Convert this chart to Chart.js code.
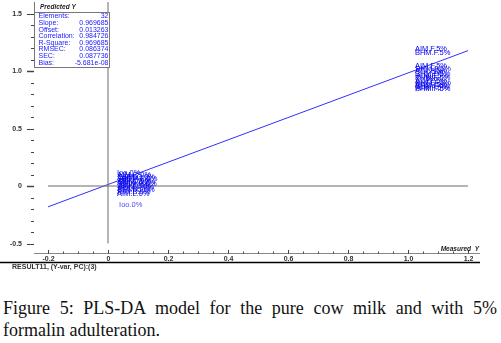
<!DOCTYPE html>
<html lang="en">
<head>
  <meta charset="UTF-8">
  <title>PLS-DA Predicted vs Measured</title>
  <script src="https://cdn.jsdelivr.net/npm/chart.js"></script>
  <style>
    body { margin: 0; background: #fff; width: 501px; height: 343px; overflow: hidden; position: relative; }
    #plot { position: absolute; left: 0; top: 0; }
    .caption { position: absolute; left: 3px; top: 297px; width: 494px; font-family: "Liberation Serif", "Times New Roman", serif; font-size: 18px; line-height: 22px; color: #111; }
    .caption .l1 { text-align: justify; text-align-last: justify; }
  </style>
</head>
<body>
  <canvas id="plot" width="501" height="272"></canvas>
  <div class="caption">
    <div class="l1">Figure 5: PLS-DA model for the pure cow milk and with 5%</div>
    <div>formalin adulteration.</div>
  </div>

  <script>
    // samples: pure milk (0%) and 5% formalin
    const pureX = [0.030, 0.031, 0.033, 0.030, 0.045, 0.031, 0.034, 0.030, 0.040, 0.031, 0.034, 0.030, 0.032, 0.030, 0.030, 0.037];
    const pureY = [0.113, 0.092, 0.080, 0.068, 0.058, 0.046, 0.036, 0.024, 0.014, 0.002, -0.010, -0.022, -0.034, -0.048, -0.066, -0.165];
    const pureLbl = ['Ioo.0%', 'AIM.C.0%', 'BHM.C.0%', 'AIM.B.0%', 'BHM.L.0%', 'AIM.C.0%', 'BHM.C.0%', 'AIM.L.0%', 'BHM.B.0%', 'AIM.C.0%', 'BHM.L.0%', 'AIM.B.0%', 'BHM.C.0%', 'AIM.B.0%', 'AIM.L.0%', 'Ioo.0%'];

    const formX = [1.023, 1.023, 1.023, 1.025, 1.023, 1.080, 1.023, 1.027, 1.023, 1.060, 1.023, 1.025, 1.023, 1.023, 1.027, 1.023];
    const formY = [1.191, 1.160, 1.048, 1.022, 1.000, 0.992, 0.977, 0.957, 0.937, 0.930, 0.915, 0.898, 0.882, 0.868, 0.855, 0.842];
    const formLbl = ['AIM.F.5%', 'BHM.F.5%', 'AIM.F.5%', 'BHM.F.5%', 'AIM.F.5%', '5%', 'BHM.F.5%', 'AIM.F.5%', 'BHM.F.5%', '5%', 'AIM.F.5%', 'BHM.F.5%', 'AIM.F.5%', 'BHM.F.5%', 'AIM.F.5%', 'BHM.F.5%'];

    // regression line end points (slope 0.9697, offset 0.0133)
    const fitX = [-0.2, 1.2];
    const fitY = [-0.181, 1.177];

    // axis ticks
    const xTicks = [-0.2, 0, 0.2, 0.4, 0.6, 0.8, 1.0, 1.2];
    const xTickLbl = ['-0.2', '0', '0.2', '0.4', '0.6', '0.8', '1.0', '1.2'];
    const yTicks = [-0.5, 0, 0.5, 1.0, 1.5];
    const yTickLbl = ['-0.5', '0', '0.5', '1.0', '1.5'];

    // statistics box
    const statNames = ['Elements:', 'Slope:', 'Offset:', 'Correlation:', 'R-Square:', 'RMSEC:', 'SEC:', 'Bias:'];
    const statVals = ['32', '0.969685', '0.013263', '0.984726', '0.969685', '0.086374', '0.087736', '-5.681e-08'];

    const pts = (xs, ys) => xs.map((x, i) => ({ x: x, y: ys[i] }));
    const FONT = '"Liberation Sans", Arial, sans-serif';

    const drawExtras = {
      id: 'drawExtras',
      afterDatasetsDraw(chart) {
        const ctx = chart.ctx, xs = chart.scales.x, ys = chart.scales.y, ca = chart.chartArea;
        ctx.save();

        // sample labels instead of markers
        ctx.font = '7.5px ' + FONT;
        ctx.textBaseline = 'middle';
        ctx.textAlign = 'left';
        pureX.forEach((x, i) => {
          ctx.fillStyle = i === pureX.length - 1 ? '#4a4aff' : '#0000f0';
          ctx.fillText(pureLbl[i], xs.getPixelForValue(x), ys.getPixelForValue(pureY[i]));
        });
        formX.forEach((x, i) => {
          ctx.fillStyle = '#0000f0';
          ctx.fillText(formLbl[i], xs.getPixelForValue(x), ys.getPixelForValue(formY[i]));
        });

        // x axis
        ctx.strokeStyle = '#888';
        ctx.lineWidth = 1;
        ctx.beginPath();
        ctx.moveTo(ca.left, Math.round(ca.bottom) + 0.5);
        ctx.lineTo(ca.right, Math.round(ca.bottom) + 0.5);
        ctx.stroke();
        ctx.strokeStyle = '#444';
        for (let v = -0.2; v <= 1.2001; v += 0.05) {
          const px = Math.round(xs.getPixelForValue(v)) + 0.5;
          ctx.beginPath();
          ctx.moveTo(px, ca.bottom - 1.5);
          ctx.lineTo(px, ca.bottom + 0.5);
          ctx.stroke();
        }
        ctx.font = 'bold 7px ' + FONT;
        ctx.fillStyle = '#333';
        ctx.textAlign = 'center';
        ctx.textBaseline = 'middle';
        xTicks.forEach((v, i) => {
          const px = Math.round(xs.getPixelForValue(v)) + 0.5;
          ctx.beginPath();
          ctx.moveTo(px, ca.bottom - 3);
          ctx.lineTo(px, ca.bottom + 0.5);
          ctx.stroke();
          ctx.fillText(xTickLbl[i], px, ca.bottom + 6.5);
        });

        // y axis ticks (no axis line)
        for (let v = -0.5; v <= 1.5001; v += 0.1) {
          const py = Math.round(ys.getPixelForValue(v)) + 0.5;
          ctx.beginPath();
          ctx.moveTo(ca.left - 3, py);
          ctx.lineTo(ca.left, py);
          ctx.stroke();
        }
        ctx.textAlign = 'right';
        yTicks.forEach((v, i) => {
          const py = Math.round(ys.getPixelForValue(v)) + 0.5;
          ctx.lineWidth = (v === 1.0 || v === 0) ? 1.5 : 1;
          ctx.beginPath();
          ctx.moveTo(ca.left - 7, py);
          ctx.lineTo(ca.left, py);
          ctx.stroke();
          ctx.fillText(yTickLbl[i], ca.left - 12, py);
        });
        ctx.lineWidth = 1;

        // bottom black rule
        ctx.strokeStyle = '#000';
        ctx.lineWidth = 1.5;
        ctx.beginPath();
        ctx.moveTo(0, ca.bottom + 9.5);
        ctx.lineTo(ca.right, ca.bottom + 9.5);
        ctx.stroke();
        ctx.lineWidth = 1;

        // axis titles
        ctx.font = 'bold italic 6.5px ' + FONT;
        ctx.fillStyle = '#222';
        ctx.textAlign = 'right';
        ctx.fillText('Measured  Y', ca.right - 1, ca.bottom - 4);
        ctx.textAlign = 'left';
        ctx.fillText('Predicted Y', ca.left + 6, 7);

        ctx.font = 'bold 7px ' + FONT;
        ctx.fillStyle = '#333';
        ctx.fillText('RESULT11, (Y-var, PC):(3)', 12, ca.bottom + 14);

        // statistics box
        const bx = ca.left + 0.5, by = 12.5, bw = 75, bh = 55;
        ctx.fillStyle = '#fff';
        ctx.fillRect(bx, by, bw, bh);
        ctx.strokeStyle = '#777';
        ctx.strokeRect(bx, by, bw, bh);
        ctx.beginPath();
        ctx.moveTo(bx, 2);
        ctx.lineTo(bx, by);
        ctx.stroke();
        ctx.font = '7px ' + FONT;
        ctx.fillStyle = '#2020ff';
        statNames.forEach((s, i) => {
          const ty = by + 4 + i * 6.6;
          ctx.textAlign = 'left';
          ctx.fillText(s, bx + 4, ty);
          ctx.textAlign = 'right';
          ctx.fillText(statVals[i], bx + bw - 1, ty);
        });

        ctx.restore();
      }
    };

    new Chart(document.getElementById('plot').getContext('2d'), {
      type: 'scatter',
      data: {
        datasets: [
          { data: [{ x: -0.2, y: 0 }, { x: 1.2, y: 0 }], showLine: true, borderColor: '#6a6a6a', borderWidth: 1, pointRadius: 0 },
          { data: [{ x: 0, y: -0.5 }, { x: 0, y: 1.6 }], showLine: true, borderColor: '#6a6a6a', borderWidth: 1, pointRadius: 0 },
          { data: pts(fitX, fitY), showLine: true, borderColor: '#3030ff', borderWidth: 1, pointRadius: 0 },
          { data: pts(pureX, pureY), pointRadius: 0 },
          { data: pts(formX, formY), pointRadius: 0 }
        ]
      },
      options: {
        responsive: false,
        animation: false,
        devicePixelRatio: 1,
        layout: { padding: { left: 34, right: 21, top: 2, bottom: 19 } },
        plugins: { legend: { display: false }, tooltip: { enabled: false } },
        scales: {
          x: { type: 'linear', display: false, min: -0.2467, max: 1.24 },
          y: { type: 'linear', display: false, min: -0.5826, max: 1.6 }
        }
      },
      plugins: [drawExtras]
    });
  </script>
</body>
</html>
